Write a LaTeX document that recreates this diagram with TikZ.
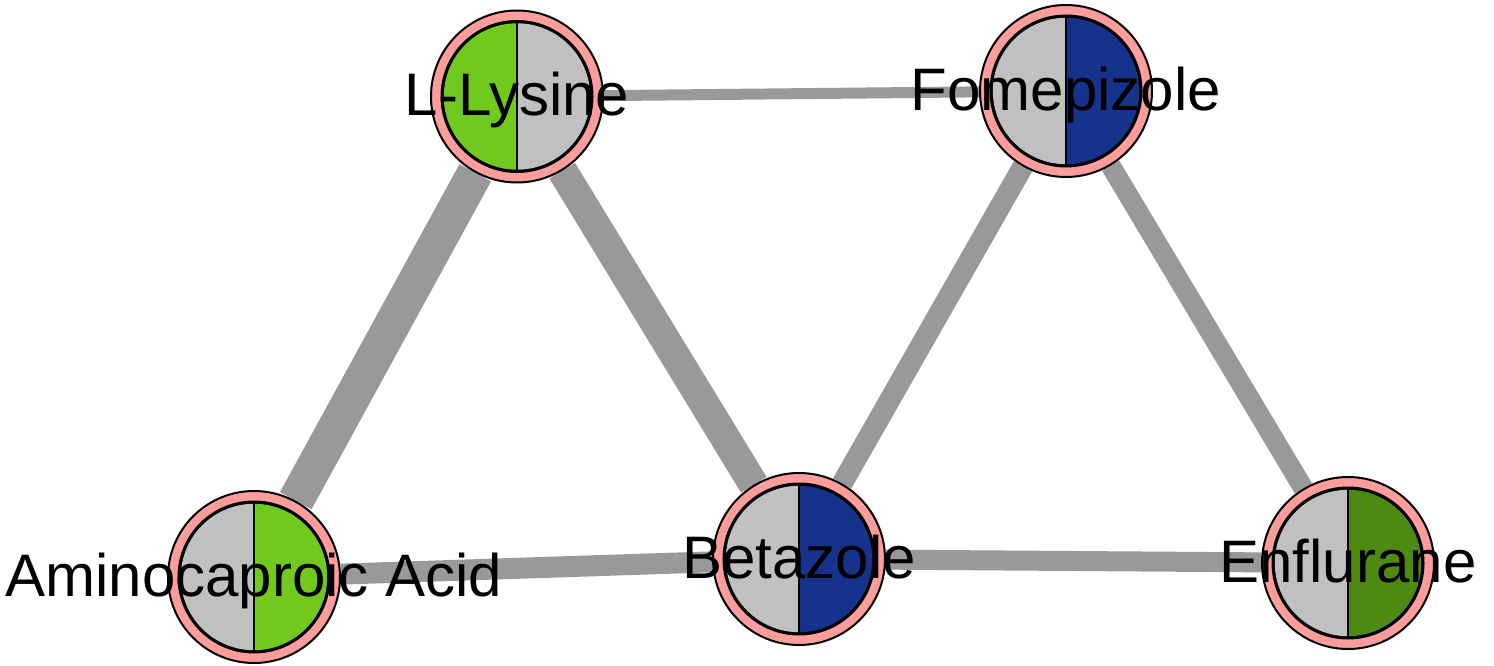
\documentclass[tikz,border=0pt]{standalone}
\usepackage{fontspec}
\setmainfont{Liberation Sans}
\usepackage{tikz}
\usetikzlibrary{backgrounds}
\definecolor{ringPink}{HTML}{FF9C9C}
\definecolor{halfGray}{HTML}{C0C0C0}
\definecolor{drugLime}{HTML}{72C91E}
\definecolor{drugNavy}{HTML}{15338C}
\definecolor{drugOlive}{HTML}{4E8A12}
\definecolor{edgeGray}{HTML}{999999}
\newcommand{\drug}[6]{\node[drug={#4}{#5}] (#1) at (#2,#3) {};
  \node[drugtext] (#1-t) at ([yshift=-9.75pt]#1.center) {#6}}

\begin{document}
\begin{tikzpicture}[x=0.5pt,y=0.5pt,
        drug/.style 2 args={circle,inner sep=0pt,minimum size=86pt,
          draw=black,line width=1pt,fill=ringPink,
          path picture={
            \fill[black] (path picture bounding box.center) circle[radius=38.25pt];
            \fill[#1] (path picture bounding box.center) ++(0pt,36.6pt)
              arc[start angle=90,end angle=270,radius=36.6pt] -- cycle;
            \fill[#2] (path picture bounding box.center) ++(0pt,-36.6pt)
              arc[start angle=-90,end angle=90,radius=36.6pt] -- cycle;
            \draw[line width=1pt] (path picture bounding box.center) ++(0pt,37pt) -- ++(0pt,-74pt);
          }},
        drugtext/.style={font=\fontsize{30pt}{36pt}\selectfont,inner sep=0pt,anchor=base},
        link/.style={draw=edgeGray,line width=#1}
      ]
      \useasboundingbox (0,0) rectangle (1494,665);
      \drug{lys}{517}{568.5}{drugLime}{halfGray}{L-Lysine};
      \drug{fom}{1066}{574}{halfGray}{drugNavy}{Fomepizole};
      \drug{ami}{254}{88}{halfGray}{drugLime}{Aminocaproic Acid};
      \drug{bet}{799}{106}{halfGray}{drugNavy}{Betazole};
      \drug{enf}{1348}{102}{halfGray}{drugOlive}{Enflurane};
      \begin{pgfonlayer}{background}
        \draw[link=18pt] (lys) -- (ami);
        \draw[link=15pt] (lys) -- (bet);
        \draw[link=10.5pt] (ami) -- (bet);
        \draw[link=5.5pt] (lys) -- (fom);
        \draw[link=10.5pt] (fom) -- (bet);
        \draw[link=10pt] (fom) -- (enf);
        \draw[link=10pt] (bet) -- (enf);
      \end{pgfonlayer}
    \end{tikzpicture}
\end{document}
